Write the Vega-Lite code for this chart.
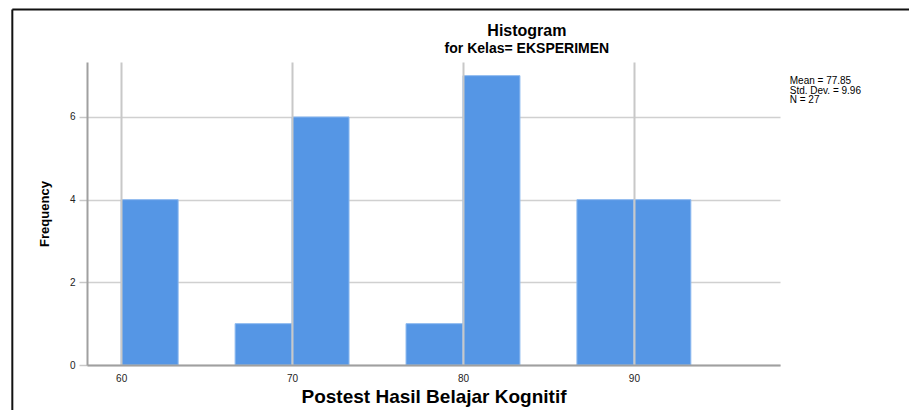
{
  "$schema": "https://vega.github.io/schema/vega-lite/v6.json",
  "width": 693,
  "height": 303,
  "autosize": {"type": "none"},
  "padding": {"left": 87, "top": 62, "right": 129, "bottom": 45},
  "background": "white",
  "config": {
    "view": {"stroke": null},
    "font": "Liberation Sans"
  },
  "datasets": {
    "bins": [
      {"start": 60, "end": 63.333, "count": 4},
      {"start": 66.667, "end": 70, "count": 1},
      {"start": 70, "end": 73.333, "count": 6},
      {"start": 76.667, "end": 80, "count": 1},
      {"start": 80, "end": 83.333, "count": 7},
      {"start": 86.667, "end": 90, "count": 4},
      {"start": 90, "end": 93.333, "count": 4}
    ],
    "stats": [
      {"lines": ["Mean = 77.85", "Std. Dev. = 9.96", "N = 27"]}
    ],
    "titles": [
      {"title": "Histogram", "subtitle": "for Kelas= EKSPERIMEN"}
    ]
  },
  "layer": [
    {
      "data": {"name": "bins"},
      "mark": {"type": "rect", "fill": "#5596e5", "stroke": "#8dbaf0", "strokeWidth": 1},
      "encoding": {
        "x": {
          "field": "start",
          "type": "quantitative",
          "scale": {"domain": [58, 98.55], "nice": false, "zero": false},
          "axis": {
            "title": "Postest Hasil Belajar Kognitif",
            "titleFontSize": 19,
            "titleFontWeight": "bold",
            "titleColor": "#000000",
            "titlePadding": 4,
            "values": [60, 70, 80, 90],
            "labelFontSize": 10,
            "labelColor": "#222222",
            "labelPadding": 8,
            "ticks": false,
            "grid": true,
            "gridColor": "#c8c8c8",
            "gridWidth": 2,
            "domainColor": "#a0a0a0",
            "domainWidth": 2,
            "zindex": 1
          }
        },
        "x2": {"field": "end"},
        "y": {
          "field": "count",
          "type": "quantitative",
          "scale": {"domain": [0, 7.33], "nice": false},
          "axis": {
            "title": "Frequency",
            "titleFontSize": 13,
            "titleFontWeight": "bold",
            "titleColor": "#000000",
            "titlePadding": 18,
            "values": [0, 2, 4, 6],
            "labelFontSize": 10,
            "labelColor": "#222222",
            "labelPadding": 4,
            "tickSize": 8,
            "tickColor": "#c8c8c8",
            "tickWidth": 1.5,
            "grid": true,
            "gridColor": "#d0d0d0",
            "gridWidth": 1.5,
            "domainColor": "#a0a0a0",
            "domainWidth": 2,
            "zindex": 0
          }
        },
        "y2": {"datum": 0}
      }
    },
    {
      "data": {"name": "stats"},
      "mark": {
        "type": "text",
        "align": "left",
        "baseline": "top",
        "fontSize": 10,
        "lineHeight": 9.5,
        "color": "#000000"
      },
      "encoding": {
        "text": {"field": "lines"},
        "x": {"datum": 99.12},
        "y": {"datum": 6.99}
      }
    },
    {
      "data": {"name": "titles"},
      "mark": {
        "type": "text",
        "align": "center",
        "baseline": "alphabetic",
        "fontSize": 16,
        "fontWeight": "bold",
        "color": "#000000"
      },
      "encoding": {
        "text": {"field": "title"},
        "x": {"datum": 83.74},
        "y": {"datum": 7.96}
      }
    },
    {
      "data": {"name": "titles"},
      "mark": {
        "type": "text",
        "align": "center",
        "baseline": "alphabetic",
        "fontSize": 14,
        "fontWeight": "bold",
        "color": "#000000"
      },
      "encoding": {
        "text": {"field": "subtitle"},
        "x": {"datum": 83.74},
        "y": {"datum": 7.55}
      }
    },
    {
      "data": {"values": [{}]},
      "mark": {"type": "rule", "color": "#111111", "strokeWidth": 2},
      "encoding": {
        "x": {"datum": 53.63},
        "x2": {"datum": 120},
        "y": {"datum": 8.6}
      }
    },
    {
      "data": {"values": [{}]},
      "mark": {"type": "rule", "color": "#111111", "strokeWidth": 2},
      "encoding": {
        "x": {"datum": 53.63},
        "y": {"datum": 8.6},
        "y2": {"datum": -3}
      }
    }
  ]
}
